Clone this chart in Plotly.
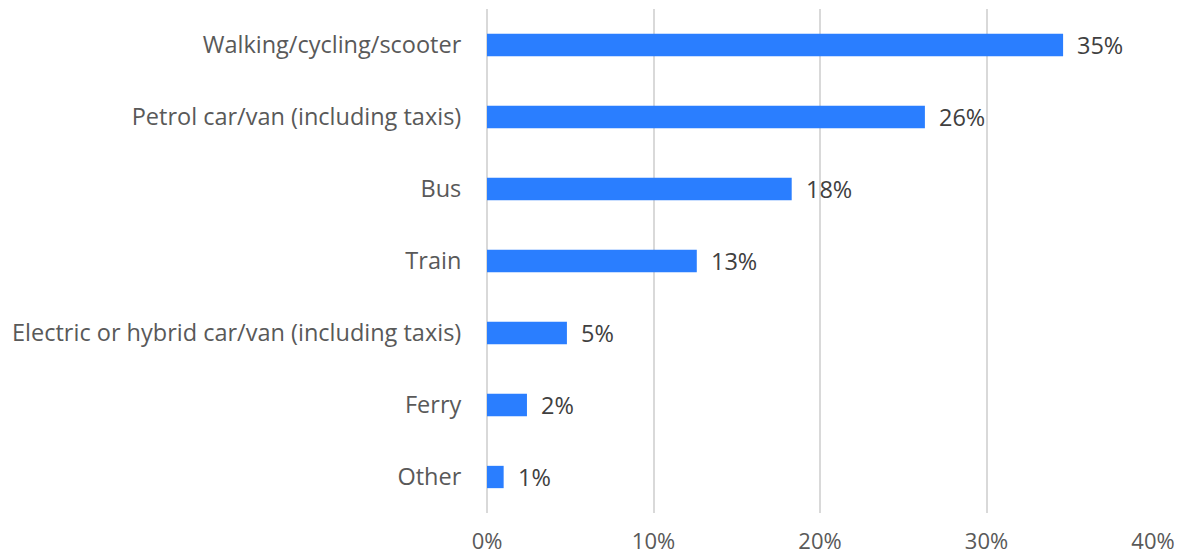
import plotly.graph_objects as go

categories = [
    "Walking/cycling/scooter",
    "Petrol car/van (including taxis)",
    "Bus",
    "Train",
    "Electric or hybrid car/van (including taxis)",
    "Ferry",
    "Other",
]
values = [34.6, 26.3, 18.3, 12.6, 4.8, 2.4, 1.0]
tick_vals = [0, 10, 20, 30, 40]
tick_text = ["0%", "10%", "20%", "30%", "40%"]

labels = [f"{round(v)}%" for v in values]

FONT = "Open Sans"
FS = 23.5

fig = go.Figure()
fig.add_trace(go.Bar(
    y=categories,
    x=values,
    orientation="h",
    marker=dict(color="#2A7EFF", line=dict(width=0)),
    hoverinfo="skip",
))

for c, v, t in zip(categories, values, labels):
    fig.add_annotation(
        x=v, y=c, text=t, xanchor="left", yanchor="middle",
        xshift=12, showarrow=False,
        font=dict(size=FS, color="#404040", family=FONT),
    )

fig.update_layout(
    width=1185, height=558,
    margin=dict(l=487, r=32, t=9, b=45),
    plot_bgcolor="white", paper_bgcolor="white",
    bargap=0.69,
    showlegend=False,
    font=dict(family=FONT, size=FS, color="#595959"),
)
fig.update_xaxes(
    range=[0, 40], tickvals=tick_vals, ticktext=tick_text,
    showgrid=True, gridcolor="#D9D9D9", gridwidth=1.5,
    zeroline=True, zerolinecolor="#D9D9D9", zerolinewidth=1.5,
    showline=False, ticks="outside", ticklen=9, tickcolor="rgba(0,0,0,0)",
    tickfont=dict(size=22, color="#595959"),
    automargin=False,
)
fig.update_yaxes(
    categoryorder="array", categoryarray=categories[::-1],
    showgrid=False, showline=False, zeroline=False,
    ticks="outside", ticklen=20, tickcolor="rgba(0,0,0,0)",
    tickfont=dict(size=FS, color="#595959"),
    automargin=False,
)

fig.write_html(
    "out.html",
    config={"displayModeBar": False},
    post_script="document.documentElement.style.overflow='hidden';"
                "document.body.style.margin='0';document.body.style.overflow='hidden';",
)
